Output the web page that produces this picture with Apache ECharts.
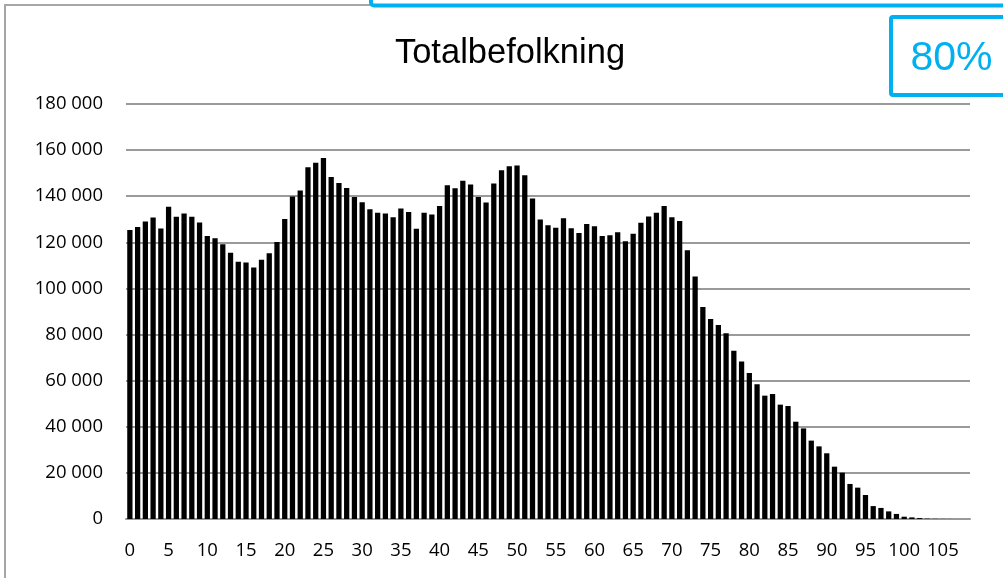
<!DOCTYPE html>
<html>
<head>
<meta charset="utf-8">
<script src="https://cdn.jsdelivr.net/npm/echarts@6/dist/echarts.min.js"></script>
<style>
  html, body { margin: 0; padding: 0; background: #fff; }
  #chart { width: 1003px; height: 578px; }
</style>
</head>
<body>
<div id="chart"></div>
<script>
// ages 0..108
var ages = [];
for (var a = 0; a <= 108; a++) { ages.push(String(a)); }

// population per age
var population = [
  125400, 126700, 129000, 130800, 126000, 135400, 131100, 132500, 131100, 128600,
  122800, 121800, 119200, 115500, 111600, 111300, 109100, 112400, 115300, 120100,
  130100, 139900, 142500, 152600, 154500, 156600, 148300, 145700, 143600, 139700,
  137400, 134400, 132800, 132500, 130900, 134700, 133200, 125900, 132800, 132100,
  135800, 144800, 143500, 146700, 145100, 139700, 137300, 145500, 151300, 153000,
  153300, 149100, 139000, 129900, 127400, 126300, 130500, 126100, 124000, 127900,
  127000, 122700, 123100, 124400, 120500, 123700, 128500, 131200, 132800, 135800,
  130900, 129300, 116600, 105200, 91900, 86800, 84100, 80600, 73000, 68300,
  63300, 58400, 53500, 54200, 49600, 49000, 42200, 39300, 34000, 31500,
  28500, 22700, 20100, 15200, 13600, 10400, 5600, 4800, 3300, 2200,
  1000, 700, 400, 150, 80, 40, 20, 10, 5
];

var yTicks = { min: 0, max: 180000, step: 20000 };

function fmt(v) {
  return String(v).replace(/\B(?=(\d{3})+(?!\d))/g, ' ');
}

var chart = echarts.init(document.getElementById('chart'));
var tickFont = "'Open Sans', sans-serif";
var titleFont = "'Liberation Sans', sans-serif";

chart.setOption({
  animation: false,
  backgroundColor: '#fff',
  title: {
    text: 'Totalbefolkning',
    left: 505, top: 31, textAlign: 'center',
    textStyle: { fontFamily: titleFont, fontSize: 34.5, fontWeight: 'normal', color: '#000' }
  },
  grid: { left: 126, right: 33, top: 104, bottom: 59, containLabel: false },
  xAxis: {
    type: 'category',
    data: ages,
    axisLine: { lineStyle: { color: '#9a9a9a', width: 2 } },
    axisTick: { show: false },
    axisLabel: { interval: 4, margin: 22, color: '#000', fontFamily: tickFont, fontSize: 18.5 }
  },
  yAxis: {
    type: 'value',
    min: yTicks.min, max: yTicks.max, interval: yTicks.step,
    axisLine: { show: false },
    axisTick: { show: false },
    splitLine: { lineStyle: { color: '#9a9a9a', width: 2 } },
    axisLabel: { margin: 23, color: '#000', fontFamily: tickFont, fontSize: 18.5, formatter: fmt }
  },
  series: [{
    type: 'bar',
    data: population,
    barCategoryGap: '32%',
    itemStyle: { color: '#000' }
  }],
  graphic: [
    { type: 'polyline', shape: { points: [[5, 578], [5, 5], [372, 5]] },
      style: { stroke: '#a6a6a6', lineWidth: 2, fill: null } },
    { type: 'rect', shape: { x: 371, y: -30, width: 700, height: 35.5, r: 3 },
      style: { stroke: '#00b0f0', lineWidth: 4, fill: null } },
    { type: 'rect', shape: { x: 891, y: 17, width: 130, height: 78, r: 2 },
      style: { stroke: '#00b0f0', lineWidth: 4, fill: '#fff' } },
    { type: 'text', x: 951.5, y: 58.5,
      style: { text: '80%', fill: '#00b0f0', align: 'center', verticalAlign: 'middle',
               font: "41px 'Liberation Sans', sans-serif" } }
  ]
});
</script>
</body>
</html>
